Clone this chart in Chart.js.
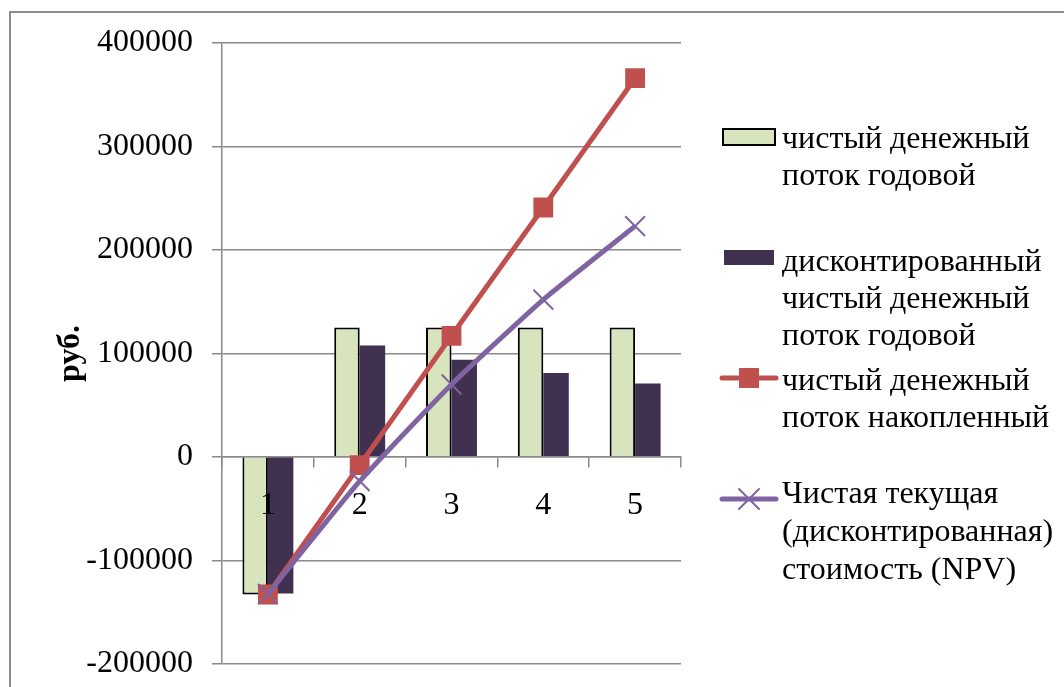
<!DOCTYPE html>
<html>
<head>
<meta charset="utf-8">
<script src="https://cdn.jsdelivr.net/npm/chart.js@4"></script>
<style>
  html, body { margin: 0; padding: 0; background: #fff; overflow: hidden; }
  #wrap { position: relative; width: 1064px; height: 687px; overflow: hidden; }
</style>
</head>
<body>
<div id="wrap"><canvas id="c" width="1064" height="702"></canvas></div>
<script>
const categories = ['1', '2', '3', '4', '5'];
const annualFlow = [-133000, 125000, 125000, 125000, 125000];
const discountedFlow = [-132000, 107700, 93900, 81000, 71000];
const cumulativeFlow = [-133000, -8000, 117000, 241000, 366000];
const npvValues = [-132500, -23500, 70000, 152000, 223000];
const yTicks = [400000, 300000, 200000, 100000, 0, -100000, -200000];

const seriesNames = [
  ['чистый денежный', 'поток годовой'],
  ['дисконтированный', 'чистый денежный', 'поток годовой'],
  ['чистый денежный', 'поток накопленный'],
  ['Чистая текущая', '(дисконтированная)', 'стоимость (NPV)']
];

const FONT = "'Liberation Serif', 'Times New Roman', serif";
const FS = 32;
const GREEN = '#D7E4BD';
const DARK = '#403151';
const RED = '#C0504D';
const PURPLE = '#8064A2';
const GRID = '#8a8a8a';

const frame = {
  id: 'frame',
  beforeDraw(chart) {
    const ctx = chart.ctx;
    ctx.save();
    ctx.strokeStyle = '#8c8c8c';
    ctx.lineWidth = 2;
    ctx.beginPath();
    ctx.moveTo(10, 702);
    ctx.lineTo(10, 12);
    ctx.lineTo(1064, 12);
    ctx.stroke();
    ctx.restore();
  }
};

const legendPlugin = {
  id: 'customLegend',
  afterDraw(chart) {
    const ctx = chart.ctx;
    ctx.save();
    ctx.font = FS + 'px ' + FONT;
    ctx.textBaseline = 'middle';
    ctx.textAlign = 'left';
    const textX = 782;
    const rows = [
      [140, 177],
      [263, 300, 337],
      [382, 419],
      [495, 533, 571]
    ];
    ctx.fillStyle = GREEN;
    ctx.fillRect(723, 129, 52, 16);
    ctx.strokeStyle = '#000';
    ctx.lineWidth = 2;
    ctx.strokeRect(723, 129, 52, 16);
    ctx.fillStyle = DARK;
    ctx.fillRect(724, 250, 50, 15);
    ctx.strokeStyle = RED;
    ctx.lineWidth = 5;
    ctx.lineCap = 'round';
    ctx.beginPath(); ctx.moveTo(722, 378); ctx.lineTo(776, 378); ctx.stroke();
    ctx.fillStyle = RED;
    ctx.fillRect(739, 368, 20, 20);
    ctx.strokeStyle = PURPLE;
    ctx.beginPath(); ctx.moveTo(722, 499); ctx.lineTo(776, 499); ctx.stroke();
    ctx.lineWidth = 2;
    ctx.beginPath();
    ctx.moveTo(739, 489); ctx.lineTo(759, 509);
    ctx.moveTo(759, 489); ctx.lineTo(739, 509);
    ctx.stroke();
    ctx.fillStyle = '#000';
    seriesNames.forEach((lines, i) => {
      lines.forEach((t, j) => ctx.fillText(t, textX, rows[i][j]));
    });
    ctx.restore();
  }
};

new Chart(document.getElementById('c'), {
  type: 'bar',
  data: {
    labels: categories,
    datasets: [
      {
        type: 'line', label: seriesNames[3].join(' '), data: npvValues,
        borderColor: PURPLE, borderWidth: 5, backgroundColor: PURPLE,
        pointStyle: 'crossRot', pointRadius: 14, pointBorderWidth: 2,
        pointBorderColor: PURPLE, pointHoverRadius: 14,
        tension: 0.15, order: 0
      },
      {
        type: 'line', label: seriesNames[2].join(' '), data: cumulativeFlow,
        borderColor: RED, borderWidth: 5, backgroundColor: RED,
        pointStyle: 'rect', pointRadius: 14, pointBorderWidth: 0,
        pointBackgroundColor: RED, pointHoverRadius: 14,
        tension: 0, order: 1
      },
      {
        label: seriesNames[0].join(' '), data: annualFlow,
        backgroundColor: GREEN, borderColor: '#000', borderWidth: 2,
        categoryPercentage: 0.555, barPercentage: 1, order: 2
      },
      {
        label: seriesNames[1].join(' '), data: discountedFlow,
        backgroundColor: DARK, borderWidth: 0,
        categoryPercentage: 0.555, barPercentage: 1, order: 3
      }
    ]
  },
  options: {
    responsive: false,
    animation: false,
    devicePixelRatio: 1,
    layout: { padding: { left: 0, right: 383, top: 43, bottom: 12 } },
    plugins: {
      legend: { display: false },
      tooltip: { enabled: false }
    },
    scales: {
      x: {
        position: { y: 0 },
        offset: true,
        grid: {
          display: true, drawOnChartArea: false, drawTicks: true,
          tickLength: 10, color: GRID, lineWidth: 1.5, offset: true
        },
        border: { display: true, color: GRID, width: 1.5 },
        ticks: { color: '#000', font: { family: FONT, size: FS }, padding: 20, maxRotation: 0, z: 1 }
      },
      y: {
        min: -200000, max: 400000,
        afterFit(scale) { scale.width = 222; },
        afterBuildTicks(scale) { scale.ticks = yTicks.map(v => ({ value: v })); },
        grid: { color: GRID, lineWidth: 1.5, tickLength: 10, drawTicks: true },
        border: { display: true, color: GRID, width: 1.5 },
        ticks: {
          color: '#000', font: { family: FONT, size: FS }, padding: 19,
          callback: v => String(v)
        },
        title: {
          display: true, text: 'руб.', color: '#000',
          font: { family: FONT, size: FS, weight: 'bold' },
          padding: { top: 52, bottom: 0 }
        }
      }
    }
  },
  plugins: [frame, legendPlugin]
});
</script>
</body>
</html>
